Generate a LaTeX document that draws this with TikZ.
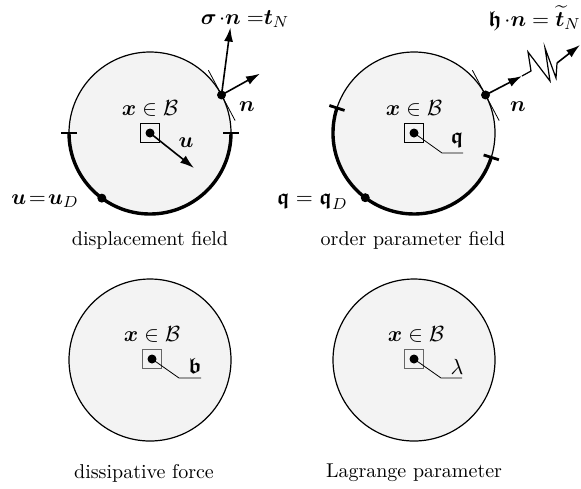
\documentclass[tikz,border=0pt]{standalone}
\usepackage{amsmath,amssymb,bm}
\usetikzlibrary{arrows.meta,calc}
\definecolor{bodyfill}{RGB}{243,243,243}
\begin{document}
\begin{tikzpicture}[x=0.5pt,y=0.5pt,
  body/.style={fill=bodyfill,draw=black,line width=0.6pt},
  thickarc/.style={line width=1.7pt},
  tickmark/.style={line width=1.4pt},
  vec/.style={-{Latex[length=7pt,width=4.5pt]},line width=0.8pt},
  thinline/.style={line width=0.4pt},
  pointbox/.style={line width=0.5pt},
  greybox/.style={line width=0.6pt,draw=black!60},
  lbl/.style={inner sep=0pt},
  mlbl/.style={inner sep=0pt,font=\fontsize{11}{13}\selectfont}]
\useasboundingbox (0,0) rectangle (581,-488);

% ---------------- circle 1: displacement field
\coordinate (c1) at (150,-133);
\draw[body] (c1) circle[radius=81];
\draw[thickarc] ($(c1)+(180:81)$) arc[start angle=180,end angle=360,radius=81];
\draw[tickmark] ($(c1)+(180:73)$) -- ($(c1)+(180:89)$);
\draw[tickmark] ($(c1)+(0:73)$) -- ($(c1)+(0:89)$);
\coordinate (d1) at ($(c1)+(233.5:81)$);
\fill (d1) circle[radius=4.5];
\coordinate (p1) at ($(c1)+(28:81)$);
\draw[thinline] ($(p1)+(118:28)$) -- ($(p1)+(-62:29)$);
\fill (p1) circle[radius=4.5];
\coordinate (n1) at ($(p1)+(29:44)$);
\coordinate (t1) at ($(p1)+(82.5:68)$);
\draw[vec] (p1) -- (n1);
\draw[vec] (p1) -- (t1);
\draw[pointbox] ($(c1)+(-9.5,-9.5)$) rectangle ($(c1)+(9.5,9.5)$);
\fill (c1) circle[radius=4.5];
\coordinate (u1) at (194,-168);
\draw[vec] (c1) -- (u1);
\node[mlbl] (lu) at (186,-143) {$\bm u$};
\node[mlbl] (ln1) at (247,-107) {$\bm n$};
\node[mlbl] (lx1) at (150,-108) {$\bm x\in\mathcal B$};
\node[mlbl] (ltn) at (245,-19) {$\bm\sigma\mkern2mu{\cdot}\bm n\;{=}\bm t_N$};
\node[mlbl] (lud) at (45,-201) {$\bm u\!=\!\bm u_D$};
\node[lbl] (cap1) at (150,-240) {displacement field};

% ---------------- circle 2: order parameter field
\coordinate (c2) at (414,-133);
\draw[body] (c2) circle[radius=81];
\draw[thickarc] ($(c2)+(162:81)$) arc[start angle=162,end angle=342.5,radius=81];
\draw[tickmark] ($(c2)+(162:73)$) -- ($(c2)+(162:89)$);
\draw[tickmark] ($(c2)+(342.5:73)$) -- ($(c2)+(342.5:89)$);
\coordinate (d2) at ($(c2)+(233:81)$);
\fill (d2) circle[radius=4.5];
\coordinate (p2) at ($(c2)+(28:81)$);
\draw[thinline] ($(p2)+(118:28)$) -- ($(p2)+(-62:29)$);
\fill (p2) circle[radius=4.5];
\coordinate (a2) at (522,-76);
\coordinate (s0) at (531,-71);
\coordinate (s1) at (528,-52);
\coordinate (s2) at (550,-81);
\coordinate (s3) at (545,-48);
\coordinate (s4) at (556,-78);
\coordinate (s5) at (557,-63);
\coordinate (e2) at (580,-45);
\draw[vec] (p2) -- (a2);
\draw[line width=0.6pt,line join=miter] (a2) -- (s0) -- (s1) -- (s2) -- (s3) -- (s4) -- (s5);
\draw[vec] (s5) -- (e2);
\draw[pointbox] ($(c2)+(-9.5,-9.5)$) rectangle ($(c2)+(9.5,9.5)$);
\fill (c2) circle[radius=4.5];
\coordinate (k2) at (442,-153);
\coordinate (h2) at (463,-153);
\draw[thinline] (c2) -- (k2) -- (h2);
\node[mlbl] (lq) at (457,-140) {$\bm{\mathfrak q}$};
\node[mlbl] (ln2) at (518,-107) {$\bm n$};
\node[mlbl] (lx2) at (414,-108) {$\bm x\in\mathcal B$};
\node[mlbl,anchor=east] (lhn) at (581,-18) {$\bm{\mathfrak h}\mkern2mu{\cdot}\bm n=\widetilde{\bm t}_N$};
\node[mlbl] (lqd) at (312,-202) {$\bm{\mathfrak q}=\bm{\mathfrak q}_D$};
\node[lbl] (cap2) at (413,-240) {order parameter field};

% ---------------- circle 3: dissipative force
\coordinate (c3) at (150,-360);
\draw[body] (c3) circle[radius=81];
\coordinate (o3) at (152,-359);
\draw[greybox] ($(o3)+(-9.5,-9.5)$) rectangle ($(o3)+(9.5,9.5)$);
\fill (o3) circle[radius=4.5];
\coordinate (k3) at (179,-378);
\coordinate (h3) at (201,-378);
\draw[thinline] (o3) -- (k3) -- (h3);
\node[mlbl] (lb) at (195,-366) {$\bm{\mathfrak b}$};
\node[mlbl] (lx3) at (152,-334) {$\bm x\in\mathcal B$};
\node[lbl] (cap3) at (144,-473) {dissipative force};

% ---------------- circle 4: Lagrange parameter
\coordinate (c4) at (414,-360);
\draw[body] (c4) circle[radius=81];
\coordinate (o4) at (414,-359);
\draw[greybox] ($(o4)+(-9.5,-9.5)$) rectangle ($(o4)+(9.5,9.5)$);
\fill (o4) circle[radius=4.5];
\coordinate (k4) at (441,-378);
\coordinate (h4) at (462,-378);
\draw[thinline] (o4) -- (k4) -- (h4);
\node[mlbl] (ll) at (457,-367) {$\lambda$};
\node[mlbl] (lx4) at (416,-334) {$\bm x\in\mathcal B$};
\node[lbl] (cap4) at (414,-473) {Lagrange parameter};
\end{tikzpicture}
\end{document}
